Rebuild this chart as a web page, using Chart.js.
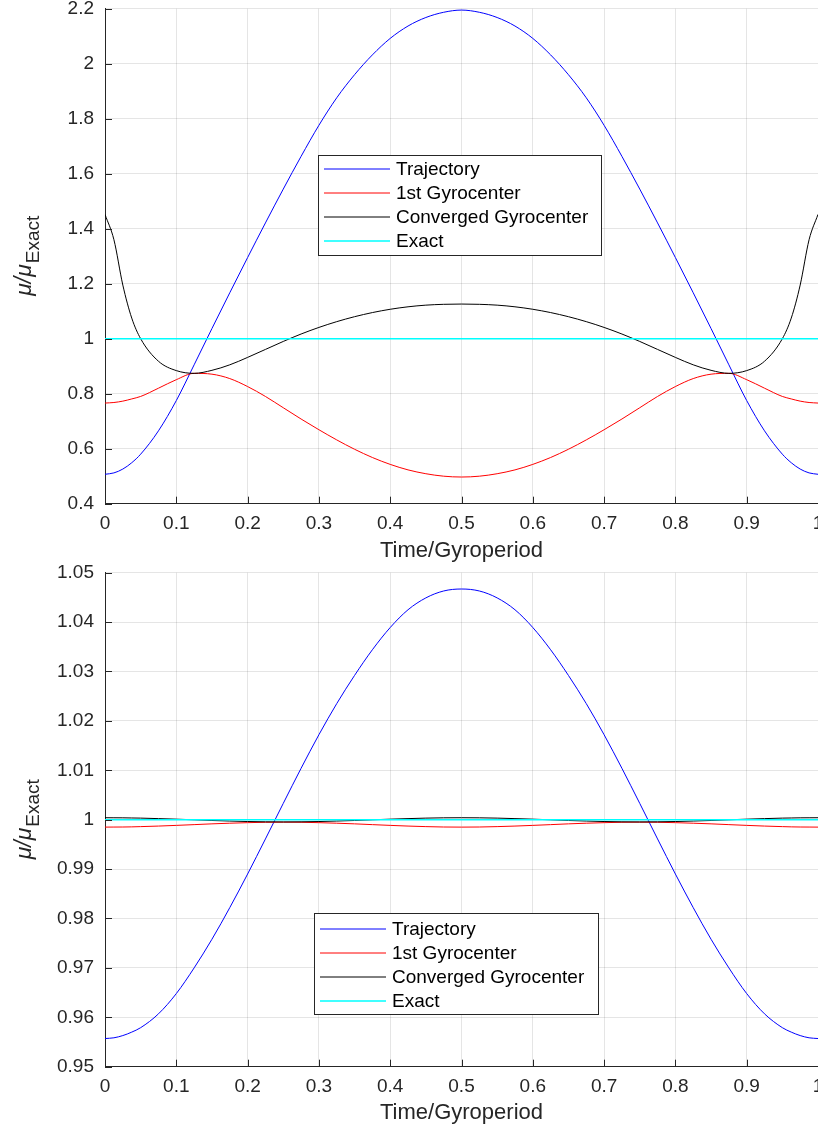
<!DOCTYPE html>
<html>
<head>
<meta charset="utf-8">
<script src="https://cdn.jsdelivr.net/npm/chart.js@4.4.0/dist/chart.umd.min.js"></script>
<style>
  html, body { margin: 0; padding: 0; background: #fff; overflow: hidden; }
  canvas { position: absolute; left: 0; }
  #topChart { top: 0; }
  #bottomChart { top: 565px; }
</style>
</head>
<body>
<canvas id="topChart" width="850" height="565"></canvas>
<canvas id="bottomChart" width="850" height="566"></canvas>
<script>
// Time / gyroperiod sample points (finer near the ends)
const timeSteps = [0, 0.0125, 0.025, 0.0375, 0.05, 0.075, 0.1, 0.125, 0.15, 0.175, 0.2, 0.225, 0.25,
    0.275, 0.3, 0.325, 0.35, 0.375, 0.4, 0.425, 0.45, 0.475, 0.5, 0.525, 0.55, 0.575, 0.6, 0.625,
    0.65, 0.675, 0.7, 0.725, 0.75, 0.775, 0.8, 0.825, 0.85, 0.875, 0.9, 0.925, 0.95, 0.9625, 0.975,
    0.9875, 1];
const exactTime = [0, 1];

const seriesNames = ['Trajectory', '1st Gyrocenter', 'Converged Gyrocenter', 'Exact'];

// Upper panel
const topTrajectory = [0.507, 0.512, 0.526, 0.549, 0.58, 0.665, 0.775, 0.905, 1.037, 1.167, 1.295, 1.421,
    1.544, 1.663, 1.776, 1.876, 1.96, 2.032, 2.092, 2.137, 2.168, 2.187, 2.195,
    2.187, 2.168, 2.137, 2.092, 2.032, 1.96, 1.876, 1.776, 1.663, 1.544, 1.421, 1.295, 1.167, 1.037,
    0.905, 0.775, 0.665, 0.58, 0.549, 0.526, 0.512, 0.507];
const topFirstGc = [0.766, 0.768, 0.773, 0.781, 0.79, 0.82, 0.851, 0.874, 0.871, 0.855, 0.826, 0.79,
    0.749, 0.708, 0.669, 0.632, 0.598, 0.568, 0.543, 0.523, 0.509, 0.5, 0.497,
    0.5, 0.509, 0.523, 0.543, 0.568, 0.598, 0.632, 0.669, 0.708, 0.749, 0.79, 0.826, 0.855, 0.871,
    0.874, 0.851, 0.82, 0.79, 0.781, 0.773, 0.768, 0.766];
const topConvergedGc = [1.452, 1.36, 1.195, 1.075, 1.0, 0.918, 0.884, 0.874, 0.885, 0.905, 0.932, 0.961,
    0.99, 1.017, 1.041, 1.062, 1.08, 1.095, 1.107, 1.116, 1.122, 1.125, 1.126,
    1.125, 1.122, 1.116, 1.107, 1.095, 1.08, 1.062, 1.041, 1.017, 0.99, 0.961, 0.932, 0.905, 0.885,
    0.874, 0.884, 0.918, 1.0, 1.075, 1.195, 1.36, 1.452];
const topExact = [1, 1];

// Lower panel
const bottomTrajectory = [0.9557, 0.95585, 0.9563, 0.957, 0.9579, 0.9607, 0.9648, 0.97, 0.9758, 0.9822,
    0.989, 0.9961, 1.0033, 1.0104, 1.0172, 1.0235, 1.0292, 1.0344, 1.0389, 1.0425, 1.0449, 1.0463, 1.0467,
    1.0463, 1.0449, 1.0425, 1.0389, 1.0344, 1.0292, 1.0235, 1.0172, 1.0104, 1.0033, 0.9961, 0.989,
    0.9822, 0.9758, 0.97, 0.9648, 0.9607, 0.9579, 0.957, 0.9563, 0.95585, 0.9557];
const bottomFirstGc = [0.9985, 0.99851, 0.99852, 0.99855, 0.9986, 0.99871, 0.99885, 0.999, 0.99916,
    0.99929, 0.9994, 0.99948, 0.9995, 0.99948, 0.9994, 0.99929, 0.99916, 0.999, 0.99885, 0.99871,
    0.9986, 0.99852, 0.9985, 0.99852, 0.9986, 0.99871, 0.99885, 0.999, 0.99916, 0.99929, 0.9994,
    0.99948, 0.9995, 0.99948, 0.9994, 0.99929, 0.99916, 0.999, 0.99885, 0.99871, 0.9986, 0.99855,
    0.99852, 0.99851, 0.9985];
const bottomConvergedGc = [1.0004, 1.00039, 1.00038, 1.00035, 1.00032, 1.00022, 1.00011, 0.99998,
    0.99984, 0.99973, 0.99963, 0.99957, 0.99955, 0.99957, 0.99963, 0.99973, 0.99984, 0.99998, 1.00011,
    1.00022, 1.00032, 1.00038, 1.0004, 1.00038, 1.00032, 1.00022, 1.00011, 0.99998, 0.99984, 0.99973,
    0.99963, 0.99957, 0.99955, 0.99957, 0.99963, 0.99973, 0.99984, 0.99998, 1.00011, 1.00022, 1.00032,
    1.00035, 1.00038, 1.00039, 1.0004];
const bottomExact = [1, 1];

// Tick labels
const xTickLabels = ['0', '0.1', '0.2', '0.3', '0.4', '0.5', '0.6', '0.7', '0.8', '0.9', '1'];
const topYTickLabels = ['0.4', '0.6', '0.8', '1', '1.2', '1.4', '1.6', '1.8', '2', '2.2'];
const bottomYTickLabels = ['0.95', '0.96', '0.97', '0.98', '0.99', '1', '1.01', '1.02', '1.03', '1.04', '1.05'];

const FONT = '"Liberation Sans", Arial, Helvetica, sans-serif';
const AXIS_COLOR = '#262626';
const seriesColors = ['#0000ff', '#ff0000', '#000000', '#00ffff'];
const seriesWidths = [1, 1, 1, 1.6];

const toPoints = (xs, ys) => xs.map((x, i) => ({ x: x, y: ys[i] }));

// ticks pointing into the plot, MATLAB style
const innerTicks = {
    id: 'innerTicks',
    afterDraw(chart) {
        const { ctx, chartArea, scales } = chart;
        ctx.save();
        ctx.strokeStyle = AXIS_COLOR;
        ctx.lineWidth = 1;
        ctx.beginPath();
        scales.x.ticks.forEach(t => {
            const px = Math.round(scales.x.getPixelForValue(t.value)) + 0.5;
            ctx.moveTo(px, chartArea.bottom);
            ctx.lineTo(px, chartArea.bottom - 7);
        });
        scales.y.ticks.forEach(t => {
            const py = Math.round(scales.y.getPixelForValue(t.value)) + 0.5;
            ctx.moveTo(chartArea.left, py);
            ctx.lineTo(chartArea.left + 7, py);
        });
        ctx.stroke();
        ctx.restore();
    }
};

// rotated y label with subscript
const muLabel = {
    id: 'muLabel',
    afterDraw(chart, args, opts) {
        const { ctx, chartArea } = chart;
        const cy = (chartArea.top + chartArea.bottom) / 2;
        const mainFont = 'italic 23px ' + FONT;
        const subFont = '19px ' + FONT;
        ctx.save();
        ctx.translate(opts.x, cy);
        ctx.rotate(-Math.PI / 2);
        ctx.fillStyle = AXIS_COLOR;
        ctx.textBaseline = 'alphabetic';
        ctx.textAlign = 'left';
        ctx.font = mainFont;
        const w1 = ctx.measureText('\u03bc/\u03bc').width;
        ctx.font = subFont;
        const w2 = ctx.measureText('Exact').width;
        const start = -(w1 + w2) / 2;
        ctx.font = mainFont;
        ctx.fillText('\u03bc/\u03bc', start, 0);
        ctx.font = subFont;
        ctx.fillText('Exact', start + w1 + 1, 8);
        ctx.restore();
    }
};

// boxed legend placed inside the axes
const boxLegend = {
    id: 'boxLegend',
    afterDraw(chart, args, opts) {
        const ctx = chart.ctx;
        ctx.save();
        ctx.fillStyle = '#ffffff';
        ctx.fillRect(opts.left, opts.top, opts.width, opts.height);
        ctx.strokeStyle = AXIS_COLOR;
        ctx.lineWidth = 1;
        ctx.strokeRect(opts.left + 0.5, opts.top + 0.5, opts.width, opts.height);
        ctx.font = '19px ' + FONT;
        ctx.textBaseline = 'middle';
        ctx.textAlign = 'left';
        chart.data.datasets.forEach((ds, i) => {
            const y = opts.top + opts.rowStart + i * opts.rowGap;
            ctx.strokeStyle = ds.borderColor;
            ctx.lineWidth = ds.borderWidth;
            ctx.beginPath();
            ctx.moveTo(opts.left + 6, y);
            ctx.lineTo(opts.left + 72, y);
            ctx.stroke();
            ctx.fillStyle = '#000';
            ctx.fillText(ds.label, opts.left + 78, y + 1);
        });
        ctx.restore();
    }
};

function buildDatasets(series) {
    return series.map((s, i) => ({
        label: seriesNames[i],
        data: toPoints(s.x, s.y),
        borderColor: seriesColors[i],
        borderWidth: seriesWidths[i],
        pointRadius: 0,
        fill: false,
        cubicInterpolationMode: 'monotone',
        order: 4 - i
    }));
}

function renderPanel(canvasId, series, yMin, yMax, yStep, yLabels, area, legendBox) {
    const ctx = document.getElementById(canvasId).getContext('2d');
    return new Chart(ctx, {
        type: 'line',
        data: { datasets: buildDatasets(series) },
        plugins: [innerTicks, muLabel, boxLegend],
        options: {
            responsive: false,
            animation: false,
            events: [],
            layout: { padding: { top: area.top, right: area.right, bottom: 0, left: 0 } },
            plugins: {
                legend: { display: false },
                tooltip: { enabled: false },
                muLabel: { x: 31 },
                boxLegend: legendBox
            },
            scales: {
                x: {
                    type: 'linear',
                    min: 0,
                    max: 1,
                    ticks: {
                        stepSize: 0.1,
                        autoSkip: false,
                        maxRotation: 0,
                        padding: 9,
                        color: AXIS_COLOR,
                        font: { family: FONT, size: 19 },
                        callback: (v, i) => xTickLabels[i]
                    },
                    grid: { color: 'rgba(38,38,38,0.12)', drawTicks: false },
                    border: { display: true, color: AXIS_COLOR, width: 1 },
                    title: {
                        display: true,
                        text: 'Time/Gyroperiod',
                        color: AXIS_COLOR,
                        font: { family: FONT, size: 22 },
                        padding: { top: 0, bottom: area.titlePad }
                    },
                    afterFit: (scale) => {
                        scale.height = area.xHeight;
                        scale.paddingLeft = 0;
                        scale.paddingRight = 0;
                    }
                },
                y: {
                    type: 'linear',
                    min: yMin,
                    max: yMax,
                    ticks: {
                        stepSize: yStep,
                        autoSkip: false,
                        padding: 11,
                        color: AXIS_COLOR,
                        font: { family: FONT, size: 19 },
                        callback: (v, i) => yLabels[i]
                    },
                    grid: { color: 'rgba(38,38,38,0.12)', drawTicks: false },
                    border: { display: true, color: AXIS_COLOR, width: 1 },
                    afterFit: (scale) => {
                        scale.width = 105;
                        scale.paddingTop = 0;
                        scale.paddingBottom = 0;
                    }
                }
            }
        }
    });
}

renderPanel('topChart', [
    { x: timeSteps, y: topTrajectory },
    { x: timeSteps, y: topFirstGc },
    { x: timeSteps, y: topConvergedGc },
    { x: exactTime, y: topExact }
], 0.4, 2.2, 0.2, topYTickLabels,
    { top: 8.7, right: 32, xHeight: 61.3, titlePad: 1 },
    { left: 318, top: 155, width: 283, height: 100, rowStart: 14, rowGap: 24 });

renderPanel('bottomChart', [
    { x: timeSteps, y: bottomTrajectory },
    { x: timeSteps, y: bottomFirstGc },
    { x: timeSteps, y: bottomConvergedGc },
    { x: exactTime, y: bottomExact }
], 0.95, 1.05, 0.01, bottomYTickLabels,
    { top: 7.7, right: 32, xHeight: 64.3, titlePad: 5 },
    { left: 314, top: 348, width: 284, height: 101, rowStart: 16, rowGap: 24 });
</script>
</body>
</html>
